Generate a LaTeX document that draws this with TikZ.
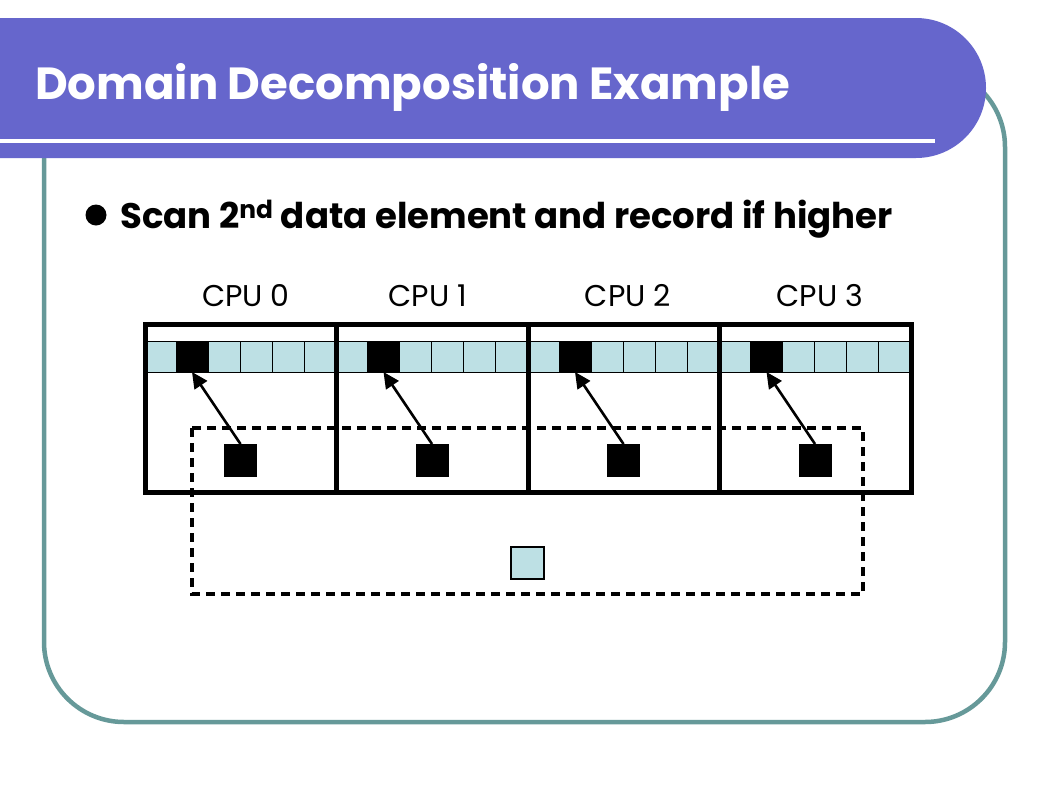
\documentclass[tikz,border=0pt]{standalone}
\usepackage{xcolor}
\usepackage{fontspec}
\setmainfont{Poppins}
\usepackage{tikz}
\usetikzlibrary{positioning}
\usetikzlibrary{arrows.meta}

\definecolor{banner}{HTML}{6666CC}
\definecolor{frameteal}{HTML}{669999}
\definecolor{cellblue}{HTML}{BDE0E4}

\tikzset{
	cell/.style={draw=black, line width=0.9pt, fill=cellblue, minimum width=32pt, minimum height=31pt, inner sep=0pt, outer sep=0pt},
	hotcell/.style={cell, fill=black},
	maxbox/.style={fill=black, minimum size=33pt, inner sep=0pt, outer sep=0pt},
	cpulabel/.style={anchor=base, font=\fontsize{30}{32}\selectfont},
}

\begin{document}
\begin{tikzpicture}[x=1pt, y=-1pt]
	\useasboundingbox[fill=white] (0,0) rectangle (1058,793);
	
	% frame and title banner
	\draw[frameteal, line width=4.5pt, rounded corners=80pt] (44,67) rectangle (1005,722);
	\fill[banner] (0,18) [rounded corners=70pt] -- (986,18) -- (986,158) [sharp corners] -- (0,158) -- cycle;
	\draw[white, line width=4.5pt] (0,141) -- (935,141);
	\node[anchor=base west, text=white, inner sep=0pt, font=\fontsize{45}{50}\selectfont\bfseries] (title) at (35,99) {Domain Decomposition Example};
	
	% bullet
	\fill (96,215) circle (10.5pt);
	\node[anchor=base west, inner sep=0pt, font=\fontsize{35.5}{38}\selectfont\bfseries] (point) at (120,228) {Scan 2\textsuperscript{nd} data element and record if higher};
	
	% cpu labels
	\node[cpulabel] (cpu0) at (246,306) {CPU 0};
	\node[cpulabel] (cpu1) at (428,306) {CPU 1};
	\node[cpulabel] (cpu2) at (628,306) {CPU 2};
	\node[cpulabel] (cpu3) at (820,306) {CPU 3};
	
	% data cells of each cpu
	\foreach \i in {0,...,3} {
		\pgfmathsetmacro{\L}{145+191.5*\i}
		\node[cell, minimum width=29pt, anchor=north west] (first\i) at (\L+2,341) {};
		\node[hotcell, right=0pt of first\i] (hot\i) {};
		\node[cell, right=0pt of hot\i] (c\i a) {};
		\node[cell, right=0pt of c\i a] (c\i b) {};
		\node[cell, right=0pt of c\i b] (c\i c) {};
		\node[cell, right=0pt of c\i c] (c\i d) {};
		\node[maxbox] (sq\i) at (\L+95.5,460.5) {};
	}
	
	% cpu boxes
	\draw[line width=5pt] (145,324) rectangle (911,492);
	\foreach \x in {336.5,528,719.5}
		\draw[line width=5pt] (\x,324) -- (\x,492);
	
	% reduction box
	\draw[line width=3.5pt, dash pattern=on 9pt off 6pt] (192,428) rectangle (863,594);
	\node[cell, line width=1.5pt, minimum width=33pt, minimum height=32pt] (result) at (527.5,563) {};
	
	% arrows
	\foreach \i in {0,...,3}
		\draw[line width=2.6pt, -{Triangle[length=16pt,width=15pt]}] (sq\i.north) -- (hot\i.south);
\end{tikzpicture}
\end{document}
